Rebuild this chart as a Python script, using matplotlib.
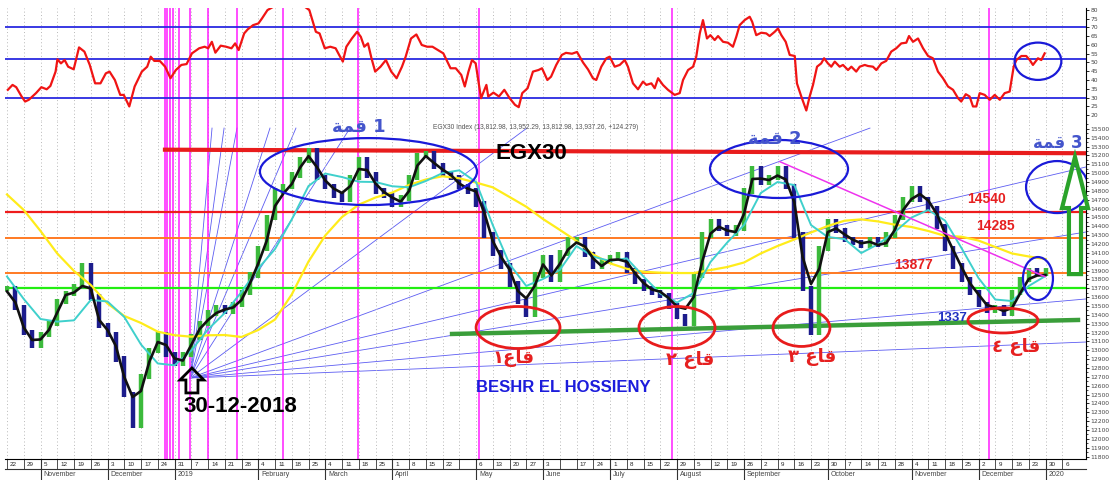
import numpy as np
import matplotlib
matplotlib.use("Agg")
import matplotlib.pyplot as plt
from matplotlib.patches import Ellipse, FancyArrow

# x unit: trading weeks counted from the week of 22 Oct 2018
week_days = ['22', '29', '5', '12', '19', '26', '3', '10', '17', '24', '31',
             '7', '14', '21', '28', '4', '11', '18', '25', '4', '11', '18', '25',
             '1', '8', '15', '22', '', '6', '13', '20', '27', '3', '', '17', '24',
             '1', '8', '15', '22', '29', '5', '12', '19', '26', '2', '9', '16', '23',
             '30', '7', '14', '21', '28', '4', '11', '18', '25', '2', '9', '16', '23',
             '30', '6']
month_names = ['November', 'December', '2019', 'February', 'March', 'April', 'May',
               'June', 'July', 'August', 'September', 'October', 'November',
               'December', '2020']
month_weeks = [2, 6, 10, 15, 19, 23, 28, 32, 36, 40, 44, 49, 54, 58, 62]

# EGX30 closes, one every half week
bar_close = [13700, 13480, 13200, 13050, 13180, 13300, 13550, 13640, 13720, 13950,
             13600, 13280, 13180, 12900, 12500, 12150, 12700, 13000, 13180, 12950,
             12850, 12950, 13150, 13300, 13420, 13480, 13440, 13520, 13650, 13850,
             14150, 14500, 14800, 14850, 14980, 15150, 15250, 14950, 14850, 14750,
             14700, 14950, 15150, 14980, 14800, 14750, 14650, 14720, 14950, 15200,
             15220, 15080, 15000, 14950, 14850, 14800, 14650, 14300, 14100, 13950,
             13750, 13550, 13400, 13850, 14050, 13800, 14100, 14250, 14250, 14080,
             13950, 14000, 14050, 14080, 13900, 13780, 13700, 13650, 13620, 13500,
             13380, 13300, 13850, 14300, 14450, 14380, 14320, 14380, 14800, 15050,
             14900, 14950, 15050, 14850, 14300, 13700, 13200, 14150, 14450, 14350,
             14250, 14220, 14180, 14250, 14200, 14300, 14500, 14700, 14820, 14700,
             14600, 14400, 14150, 13950, 13800, 13650, 13520, 13450, 13480, 13420,
             13650, 13800, 13900, 13870, 13900]

# fast average (black), one every half week
black_ma = [13664, 13540, 13257, 13116, 13122, 13229, 13426, 13624, 13652, 13726,
            13698, 13342, 13229, 13048, 12698, 12472, 12540, 12873, 13093, 13059,
            12907, 12884, 13059, 13240, 13342, 13421, 13460, 13483, 13568, 13754,
            13980, 14234, 14629, 14770, 14877, 15064, 15193, 15069, 14917, 14826,
            14776, 14855, 15047, 15035, 14883, 14787, 14725, 14677, 14798, 15086,
            15193, 15114, 15041, 14979, 14883, 14826, 14793, 14550, 14234, 14053,
            13912, 13669, 13585, 13726, 13969, 13844, 13974, 14138, 14217, 14172,
            14036, 13951, 14019, 14025, 14000, 13867, 13760, 13686, 13661, 13590,
            13492, 13469, 13602, 13997, 14318, 14395, 14352, 14335, 14539, 14934,
            14939, 14922, 14973, 14928, 14674, 14053, 13748, 13923, 14335, 14375,
            14309, 14248, 14208, 14225, 14189, 14211, 14358, 14584, 14708, 14764,
            14691, 14544, 14324, 14127, 13935, 13754, 13630, 13511, 13483, 13443,
            13477, 13647, 13805, 13844, 13850]

# medium (cyan) and slow (yellow) averages, one per week
cyan_ma = [13833, 13579, 13353, 13323, 13338, 13568, 13551, 13376, 13065, 12851,
           12830, 12997, 13235, 13421, 13658, 13923, 14143, 14477, 14855, 14996,
           14956, 14903, 14900, 14852, 14840, 14911, 15001, 15032, 14900, 14414,
           13974, 13726, 13805, 13906, 14177, 14057, 14008, 14038, 13833, 13641,
           13539, 13647, 13997, 14217, 14414, 14776, 14900, 14866, 14414, 14279,
           14256, 14098, 14198, 14335, 14499, 14584, 14465, 14149, 13816, 13573,
           13556, 13726, 13839]
yellow_ma = [14759, 14584, 14347, 14093, 13895, 13737, 13528, 13387, 13308, 13210,
             13170, 13153, 13169, 13172, 13150, 13229, 13347, 13630, 14002, 14296,
             14505, 14644, 14725, 14781, 14866, 14928, 14965, 14942, 14894, 14840,
             14731, 14621, 14482, 14360, 14234, 14081, 13982, 13920, 13887, 13876,
             13872, 13872, 13906, 13940, 13991, 14093, 14177, 14251, 14330, 14403,
             14463, 14478, 14455, 14418, 14392, 14347, 14292, 14282, 14239, 14166,
             14093, 14059, 14030]

# RSI (upper panel)
rsi_weeks = [0.05, 0.33, 0.55, 0.87, 1.08, 1.30, 1.73, 2.05, 2.37, 2.59,
             2.90, 3.01, 3.22, 3.44, 3.65, 3.98, 4.30, 4.62, 4.94, 5.26,
             5.58, 5.90, 6.12, 6.44, 6.76, 6.97, 7.30, 7.62, 8.05, 8.37,
             8.58, 8.79, 9.12, 9.44, 9.76, 10.08, 10.41, 10.72, 11.04, 11.47,
             11.80, 12.01, 12.23, 12.44, 12.76, 13.08, 13.40, 13.62, 13.83, 14.16,
             14.37, 14.69, 15.01, 15.22, 15.55, 16.30, 17.19, 18.05, 18.44, 18.66,
             18.97, 19.30, 19.62, 19.83, 20.05, 20.26, 20.59, 20.90, 21.12, 21.33,
             21.55, 21.76, 21.98, 22.30, 22.62, 22.94, 23.26, 23.58, 23.80, 24.12,
             24.44, 24.76, 25.08, 25.40, 25.73, 26.05, 26.48, 26.79, 27.12, 27.33,
             27.55, 27.76, 27.98, 28.30, 28.62, 28.73, 29.04, 29.37, 29.69, 30.01,
             30.33, 30.55, 30.76, 31.08, 31.40, 31.73, 31.94, 32.26, 32.48, 32.79,
             33.12, 33.37, 33.73, 34.03, 34.39, 34.69, 34.98, 35.18, 35.48, 35.78,
             35.98, 36.28, 36.58, 36.88, 37.07, 37.37, 37.67, 37.97, 38.17, 38.47,
             38.67, 38.87, 39.16, 39.46, 39.86, 40.16, 40.36, 40.66, 40.96, 41.15,
             41.36, 41.55, 41.79, 41.99, 42.25, 42.45, 42.75, 43.04, 43.34, 43.54,
             43.74, 44.04, 44.34, 44.49, 44.73, 45.03, 45.33, 45.53, 45.83, 46.03,
             46.23, 46.49, 46.73, 47.03, 47.16, 47.42, 47.72, 47.92, 48.12, 48.36,
             48.61, 48.78, 49.01, 49.21, 49.42, 49.71, 49.91, 50.21, 50.41, 50.70,
             50.91, 51.21, 51.40, 51.70, 51.90, 52.20, 52.49, 52.79, 53.09, 53.39,
             53.69, 53.85, 54.09, 54.39, 54.69, 54.99, 55.28, 55.58, 55.88, 56.18,
             56.48, 56.78, 56.97, 57.24, 57.47, 57.67, 57.87, 58.07, 58.37, 58.67,
             58.97, 59.27, 59.56, 59.86, 60.10, 60.26, 60.56, 60.85, 61.06, 61.25,
             61.55, 61.75, 61.95]
rsi_vals = [34.4, 37.2, 35.9, 30.6, 27.7, 28.7, 32.5, 35.9, 34.7, 36.6,
            44.8, 51.8, 49.5, 51.4, 47.6, 46.1, 58.6, 56.2, 48.6, 38.1,
            38.1, 43.8, 44.8, 40.0, 31.5, 31.5, 24.9, 36.3, 44.8, 47.6,
            53.3, 50.9, 50.9, 47.6, 41.0, 45.7, 48.6, 49.1, 55.2, 58.1,
            59.0, 58.1, 61.8, 55.6, 59.6, 59.0, 58.1, 60.9, 57.1, 66.6,
            68.9, 71.3, 72.3, 75.1, 79.9, 84.0, 86.0, 79.9, 67.5, 66.6,
            58.1, 59.0, 58.1, 54.3, 50.5, 59.0, 63.7, 67.5, 64.7, 59.0,
            60.9, 52.4, 44.8, 47.6, 51.4, 44.8, 41.0, 47.6, 53.3, 63.7,
            66.0, 60.0, 59.0, 59.0, 57.1, 55.2, 46.7, 46.7, 42.9, 36.3,
            44.8, 51.4, 49.5, 29.6, 37.2, 30.6, 32.8, 30.6, 34.4, 29.6,
            25.8, 24.5, 32.5, 35.3, 44.8, 45.7, 46.7, 40.0, 41.9, 48.6,
            54.3, 55.5, 55.0, 56.0, 50.0, 46.0, 41.0, 40.0, 47.6, 52.4,
            53.3, 47.6, 48.6, 51.4, 47.6, 38.1, 34.7, 39.1, 37.2, 38.1,
            35.3, 41.0, 37.2, 34.4, 31.5, 32.5, 40.0, 45.7, 47.6, 53.3,
            66.6, 74.2, 63.7, 65.6, 62.8, 65.1, 61.8, 61.3, 59.0, 64.7,
            71.3, 74.2, 76.1, 73.2, 65.6, 67.0, 66.6, 65.1, 67.5, 69.4,
            65.6, 61.8, 54.3, 53.7, 38.1, 30.6, 22.6, 30.6, 37.2, 47.6,
            49.5, 52.4, 49.5, 47.6, 50.5, 47.6, 48.6, 45.7, 47.6, 44.8,
            47.6, 48.6, 48.0, 47.6, 45.7, 49.5, 50.9, 56.2, 58.1, 60.9,
            61.3, 65.1, 61.8, 63.7, 58.1, 53.7, 52.4, 44.8, 41.0, 36.3,
            34.4, 29.6, 27.7, 31.9, 30.6, 24.9, 24.9, 32.5, 31.5, 28.7,
            31.5, 28.7, 32.5, 33.4, 47.6, 51.4, 53.7, 53.7, 51.4, 48.6,
            52.4, 51.4, 55.2]
rsi_levels = [70, 52, 30]

# time zones (magenta) and price levels
time_zone_weeks = [9.43, 9.55, 9.76, 9.91, 10.26, 10.90, 11.97, 13.73, 16.45,
                   20.96, 28.18, 39.70, 58.63]
red_level = 14562
orange_levels = [14271, 13870]
green_level = 13707
top_line = [(9.43, 15265), (64.4, 15225)]
floor_line = [(26.57, 13184), (63.94, 13342)]
down_trend = [(46.15, 15129), (61.97, 13831)]
fan_origin = (10.93, 12687)
fan_top_weeks = [12.24, 12.96, 13.73, 15.70, 17.25, 20.48, 31.04, 51.52]
fan_right_prices = [13093, 13579, 14335, 15069]

# (centre week, centre price, width in weeks, height in points)
top_ellipses = [(21.58, 15018, 12.96, 756), (46.09, 15047, 8.24, 655),
                (62.69, 14843, 3.70, 587), (61.55, 13810, 1.79, 485)]
bottom_ellipses = [(30.51, 13257, 5.01, 474), (40.0, 13257, 4.54, 474),
                   (47.43, 13252, 3.40, 418), (59.46, 13336, 4.18, 282)]

QIMMA = "\ufe94\ufee4\ufed7"   # قمة in visual order
QAA = "\ufec9\ufe8e\ufed7"     # قاع in visual order

XMIN, XMAX = -0.12, 64.4
fig = plt.figure(figsize=(11.13, 4.8), dpi=100)
ax_rsi = fig.add_axes([5 / 1113, 1 - 121 / 480, (1085.7 - 5) / 1113, 113 / 480])
ax = fig.add_axes([5 / 1113, 1 - 459 / 480, (1085.7 - 5) / 1113, 338 / 480])

for a in (ax_rsi, ax):
    a.set_xlim(XMIN, XMAX)
    a.set_xticks(np.arange(64))
    a.grid(axis='x', color='#b8b8b8', ls=(0, (1, 2.5)), lw=0.7)
    a.tick_params(axis='x', length=0, labelbottom=False)
    a.yaxis.tick_right()
    a.tick_params(axis='y', labelsize=4.3, labelcolor='#444444', length=2.5,
                  width=0.6, pad=1)
    for s in ('left', 'top'):
        a.spines[s].set_visible(False)
    a.spines['right'].set_linewidth(0.8)
    for w in time_zone_weeks:
        a.axvline(w, color='#ff1cff', lw=1.1, zorder=2)
ax_rsi.spines['bottom'].set_visible(False)
ax.spines['bottom'].set_linewidth(0.8)

# ---- RSI panel
ax_rsi.set_ylim(16.6, 81.1)
ax_rsi.set_yticks(np.arange(20, 81, 5))
for lv in rsi_levels:
    ax_rsi.axhline(lv, color='#2a2ae0', lw=1.3, zorder=3)
ax_rsi.plot(rsi_weeks, rsi_vals, color='#f01414', lw=1.6, zorder=4)
ax_rsi.add_patch(Ellipse((61.55, 50.7), 2.79, 21.3, fill=False, ec='#1a1ad8', lw=1.6, zorder=5))

# ---- price panel
ax.set_ylim(11772, 15589)
ax.set_yticks(np.arange(11800, 15501, 100))
ax.set_yticks(np.arange(11800, 15551, 50), minor=True)
ax.tick_params(axis='y', which='minor', length=1.5, width=0.5)

for w in fan_top_weeks:
    ax.plot([fan_origin[0], w], [fan_origin[1], 15509], color='#5c5cf2', lw=0.6, zorder=1)
for p in fan_right_prices:
    ax.plot([fan_origin[0], XMAX], [fan_origin[1], p], color='#5c5cf2', lw=0.6, zorder=1)

ax.axhline(red_level, color='#ee1c1c', lw=1.6, zorder=2)
for lv in orange_levels:
    ax.axhline(lv, color='#ff7a22', lw=1.4, zorder=2)
ax.axhline(green_level, color='#22ee11', lw=1.6, zorder=2)
ax.plot(*zip(*top_line), color='#e81c1c', lw=3.0, zorder=2)
ax.plot(*zip(*floor_line), color='#3a9e3a', lw=3.2, zorder=2)

closes = np.array(bar_close, dtype=float)
prev = np.r_[closes[0], closes[:-1]]
bar_x = np.arange(len(closes)) * 0.5
lo = np.minimum(prev, closes) - 30
hi = np.maximum(prev, closes) + 30
up = closes >= prev
ax.vlines(bar_x[up], lo[up], hi[up], color='#3cba3c', lw=3.2, zorder=3)
ax.vlines(bar_x[~up], lo[~up], hi[~up], color='#1c1c8c', lw=3.2, zorder=3)

ax.plot(np.arange(len(yellow_ma)), yellow_ma, color='#ffec1a', lw=1.6, zorder=4)
ax.plot(np.arange(len(cyan_ma)), cyan_ma, color='#3fd0cc', lw=1.4, zorder=4)
ax.plot(np.arange(len(black_ma)) * 0.5, black_ma, color='#111111', lw=1.9, zorder=5)
ax.plot(*zip(*down_trend), color='#ee33ee', lw=1.1, zorder=5)

for cx, cy, ew, eh in top_ellipses:
    ax.add_patch(Ellipse((cx, cy), ew, eh, fill=False, ec='#1a1ad8', lw=1.6, zorder=6))
for cx, cy, ew, eh in bottom_ellipses:
    ax.add_patch(Ellipse((cx, cy), ew, eh, fill=False, ec='#e81c1c', lw=2.0, zorder=6))

ax.add_patch(FancyArrow(11.04, 12518, 0, 282, width=0.72, head_width=1.43,
                        head_length=136, length_includes_head=True, fill=False,
                        ec='black', lw=2.0, zorder=7))
ax.add_patch(FancyArrow(63.76, 13860, 0, 1322, width=0.72, head_width=1.55,
                        head_length=576, length_includes_head=True, fill=False,
                        ec='#2aa32a', lw=3.0, zorder=7, clip_on=False))

latin = 'Liberation Sans'
arab = 'DejaVu Sans'
ax.text(25.43, 15521, 'EGX30 Index (13,812.98, 13,952.29, 13,812.98, 13,937.26, +124.279)',
        fontsize=4.8, color='#555555', family=latin, ha='left', va='center', zorder=8)
ax.text(31.28, 15227, 'EGX30', fontsize=16, fontweight='bold', family=latin,
        ha='center', va='center', zorder=8)
ax.text(13.91, 12360, '30-12-2018', fontsize=16, fontweight='bold', family=latin,
        ha='center', va='center', zorder=8)
ax.text(33.19, 12585, 'BESHR EL HOSSIENY', fontsize=12, fontweight='bold',
        family=latin, color='#1c1cdc', ha='center', va='center', zorder=8)
for x, y, t in [(58.45, 14708, '14540'), (59.04, 14403, '14285'), (54.09, 13963, '13877')]:
    ax.text(x, y, t, fontsize=10, fontweight='bold', family=latin, color='#e62020',
            ha='center', va='center', zorder=8)
ax.text(56.42, 13364, '1337', fontsize=9.5, fontweight='bold', family=latin,
        color='#2030c0', ha='center', va='center', zorder=5)
for x, y, n, fs in [(21.0, 15521, '1', 13), (45.85, 15385, '2', 13), (62.75, 15340, '3', 12)]:
    ax.text(x, y, QIMMA + ' ' + n, fontsize=fs, fontweight='bold', family=arab,
            color='#4455cc', ha='center', va='center', zorder=8, clip_on=False)
for x, y, t in [(30.21, 12913, '\u0661' + QAA), (40.78, 12890, '\u0662 ' + QAA),
                (48.06, 12924, '\u0663 ' + QAA), (60.24, 13037, '\u0664 ' + QAA)]:
    ax.text(x, y, t, fontsize=13, fontweight='bold', family=arab, color='#e62020',
            ha='center', va='center', zorder=8)

# date strip under the price panel
strip = ax.get_xaxis_transform()
ax.plot([XMIN, XMAX], [-0.03, -0.03], color='#333333', lw=0.8, transform=strip, clip_on=False)
for i, lab in enumerate(week_days):
    ax.plot([i, i], [0, -0.03], color='#333333', lw=0.6, transform=strip, clip_on=False)
    ax.text(i + 0.18, -0.015, lab, transform=strip, fontsize=4.5, family=latin,
            color='#222222', ha='left', va='center')
for w, name in zip(month_weeks, month_names):
    ax.plot([w, w], [0, -0.06], color='#333333', lw=0.8, transform=strip, clip_on=False)
    ax.text(w + 0.18, -0.047, name, transform=strip, fontsize=5, family=latin,
            color='#444444', ha='left', va='center')

fig.savefig('out.png', dpi=100)
